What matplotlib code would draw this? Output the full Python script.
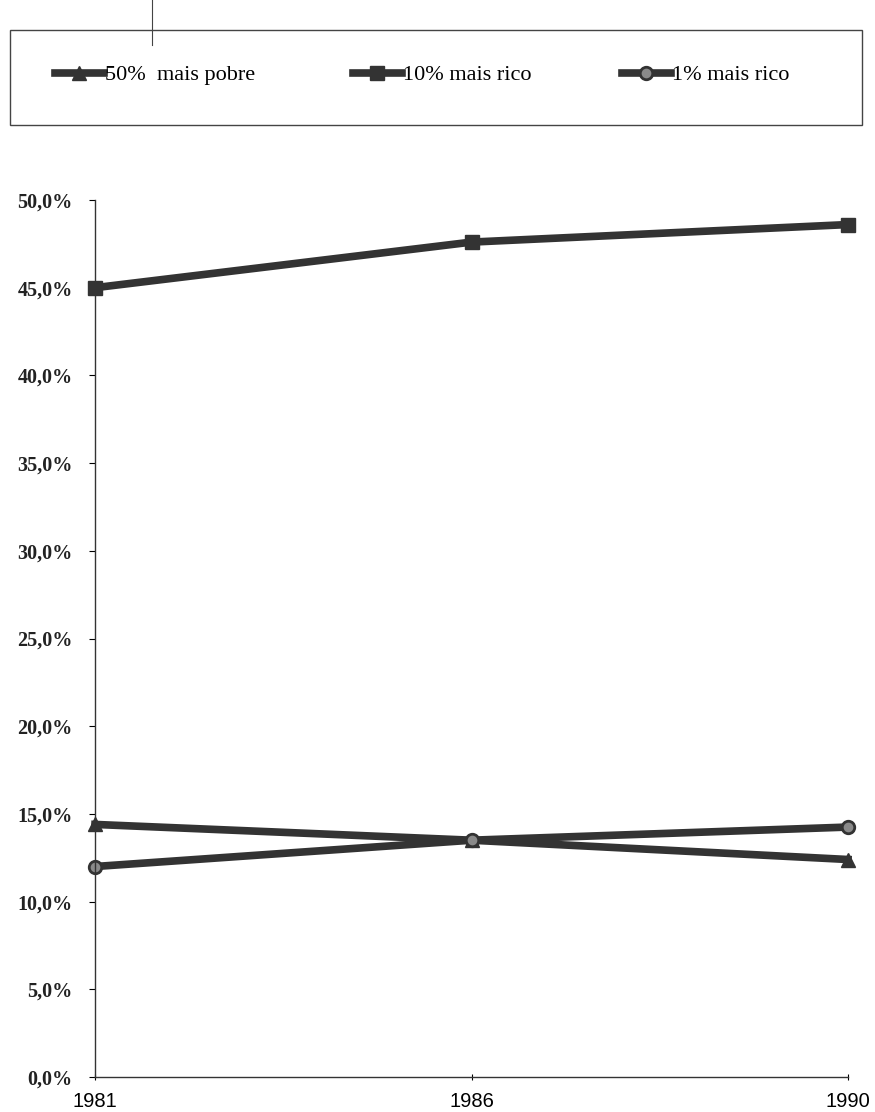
import matplotlib.pyplot as plt
from matplotlib.patches import Rectangle
from matplotlib.ticker import FuncFormatter

# ---------------------------
# Data
# ---------------------------
anos = ["1981", "1986", "1990"]
pobre_50 = [14.4, 13.5, 12.4]
rico_10 = [45.0, 47.6, 48.6]
rico_1 = [12.0, 13.5, 14.25]
y_ticks = [0, 5, 10, 15, 20, 25, 30, 35, 40, 45, 50]

COR = "#333333"
W, H = 875, 1112

fig = plt.figure(figsize=(W / 100, H / 100), dpi=100)
ax = fig.add_axes([95 / W, 1 - 1077 / H, (848 - 95) / W, (1077 - 200) / H])

x = range(len(anos))
l1, = ax.plot(x, pobre_50, color=COR, lw=5.5, marker="^", ms=10,
              mfc=COR, mec=COR, label="50%  mais pobre", clip_on=False)
l2, = ax.plot(x, rico_10, color=COR, lw=5.5, marker="s", ms=10,
              mfc=COR, mec=COR, label="10% mais rico", clip_on=False)
l3, = ax.plot(x, rico_1, color=COR, lw=5.5, marker="o", ms=9,
              mfc="#8a8a8a", mec=COR, mew=2, label="1% mais rico", clip_on=False)

ax.set_xlim(0, len(anos) - 1)
ax.set_ylim(0, 50)
ax.set_xticks(list(x))
ax.set_xticklabels(anos, family="Liberation Sans", fontsize=14.5)
ax.set_yticks(y_ticks)
ax.yaxis.set_major_formatter(FuncFormatter(lambda v, p: f"{v:.1f}%".replace(".", ",")))
for t in ax.get_yticklabels():
    t.set_family("Liberation Serif")
    t.set_fontsize(14.5)
    t.set_fontweight("bold")
    t.set_color("#222222")

ax.spines["top"].set_visible(False)
ax.spines["right"].set_visible(False)
for s in ("left", "bottom"):
    ax.spines[s].set_color("#333333")
    ax.spines[s].set_linewidth(1)
ax.tick_params(axis="y", length=4, width=0.8, pad=12)
ax.tick_params(axis="x", length=5, width=0.8, direction="inout", pad=8)

# ---------------------------
# Legend box at the top
# ---------------------------
fig.add_artist(Rectangle((10 / W, 1 - 125 / H), 852 / W, 95 / H,
                         transform=fig.transFigure, fill=False,
                         edgecolor="#444444", lw=1.0))
entradas = [(l1, 55), (l2, 353), (l3, 622)]
for handle, px in entradas:
    fig.legend(handles=[handle], loc="center left",
               bbox_to_anchor=(px / W, 1 - 75 / H),
               bbox_transform=fig.transFigure, frameon=False,
               handlelength=2.2, handletextpad=0.05,
               borderaxespad=0.0, borderpad=0.0,
               prop={"family": "Liberation Serif", "size": 16})

# scan mark above legend
fig.add_artist(plt.Line2D([152 / W, 152 / W], [1, 1 - 45 / H],
                          color="#444444", lw=0.8, transform=fig.transFigure))

fig.savefig("out.png", dpi=100, facecolor="white")
